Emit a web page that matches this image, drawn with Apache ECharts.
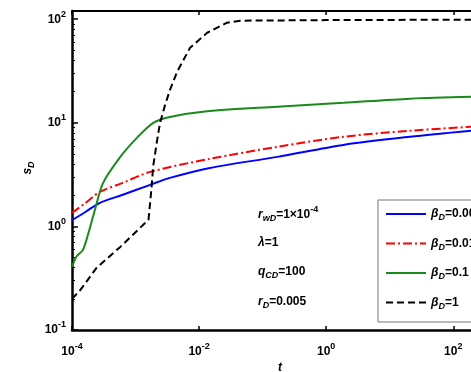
<!DOCTYPE html>
<html>
<head>
<meta charset="utf-8">
<script src="https://cdn.jsdelivr.net/npm/echarts@6/dist/echarts.min.js"></script>
<style>
  html, body { margin: 0; padding: 0; background: #fff; }
  #main { width: 471px; height: 372px; }
</style>
</head>
<body>
<div id="main"></div>
<script>
// values (t, s_D)
var tBlue = [1e-4, 1.6e-4, 2.75e-4, 6e-4, 1.7e-3, 3.47e-3, 0.0148, 0.17, 1.86, 20.9, 190]
var sBlue = [1.15, 1.37, 1.69, 2.0, 2.52, 2.94, 3.67, 4.69, 6.12, 7.33, 8.38]

var tRed = [1e-4, 1.6e-4, 2.75e-4, 6e-4, 1.7e-3, 0.0148, 0.17, 1.86, 20.9, 190]
var sRed = [1.35, 1.67, 2.15, 2.6, 3.36, 4.49, 5.86, 7.33, 8.38, 9.15]

var tGreen = [1e-4, 1.2e-4, 1.48e-4, 1.78e-4, 2.29e-4, 3.09e-4, 5.75e-4, 1.05e-3, 1.9e-3, 3.47e-3, 0.0115, 0.17, 1.86, 20.9, 190]
var sGreen = [0.41, 0.52, 0.59, 0.83, 1.44, 2.63, 4.69, 7.16, 10.0, 11.4, 12.8, 14.3, 15.6, 17.1, 17.8]

var tBlack = [1e-4, 1.35e-4, 2.45e-4, 5.75e-4, 1.6e-3, 1.69e-3, 1.8e-3, 1.89e-3, 2.19e-3, 2.43e-3, 2.92e-3, 3.49e-3, 4.51e-3, 7.21e-3, 0.0134, 0.0276, 0.0443, 1, 190]
var sBlack = [0.2, 0.243, 0.40, 0.634, 1.16, 1.2, 2.5, 3.76, 6.86, 10, 14.9, 20.9, 31.1, 53, 74, 92.5, 96.8, 98, 99]

var seriesNames = ['0.001', '0.01', '0.1', '1']
var xTicks = [1e-4, 1e-2, 1, 100]
var yTicks = [0.1, 1, 10, 100]
var yMinorTicks = [0.2, 0.3, 0.4, 0.5, 0.6, 0.7, 0.8, 0.9, 2, 3, 4, 5, 6, 7, 8, 9, 20, 30, 40, 50, 60, 70, 80, 90]

var FONT = 'Liberation Sans, Arial, sans-serif'

function zip (xs, ys) {
  return xs.map(function (x, i) { return [x, ys[i]] })
}

var powRich = {
  b: { fontFamily: FONT, fontSize: 12, fontWeight: 'bold', color: '#000' },
  e: { fontFamily: FONT, fontSize: 9, fontWeight: 'bold', color: '#000', padding: [0, 0, 10, 0] }
}
function powLabel (v) {
  return '{b|10}{e|' + Math.round(Math.log10(v)) + '}'
}

var textRich = {
  n: { fontFamily: FONT, fontSize: 12, fontWeight: 'bold', color: '#000' },
  i: { fontFamily: FONT, fontSize: 12, fontWeight: 'bold', fontStyle: 'italic', color: '#000' },
  sub: { fontFamily: FONT, fontSize: 9, fontWeight: 'bold', fontStyle: 'italic', color: '#000', padding: [8, 0, 0, 0] },
  sup: { fontFamily: FONT, fontSize: 9, fontWeight: 'bold', color: '#000', padding: [0, 0, 10, 0] }
}

var chart = echarts.init(document.getElementById('main'), null, { renderer: 'canvas' })

var option = {
  animation: false,
  backgroundColor: '#fff',
  grid: { left: 72, right: 0, top: 11, bottom: 42, containLabel: false },
  legend: {
    orient: 'vertical',
    left: 378,
    top: 200,
    itemWidth: 40,
    itemHeight: 12,
    itemGap: 15,
    padding: [8, 40, 11, 7],
    borderColor: '#777',
    borderWidth: 1,
    backgroundColor: '#fff',
    itemStyle: { color: 'rgba(0,0,0,0)', borderColor: 'rgba(0,0,0,0)', borderWidth: 0 },
    data: seriesNames,
    formatter: function (name) {
      return '{i|β}{sub|D}{n|=' + name + '}'
    },
    textStyle: { rich: textRich }
  },
  xAxis: [{
    type: 'log',
    position: 'bottom',
    min: 1e-4,
    max: 190,
    axisLine: { lineStyle: { color: '#000', width: 2.5 } },
    axisTick: { inside: true, length: 4, customValues: xTicks, lineStyle: { color: '#000', width: 1.5 } },
    axisLabel: { customValues: xTicks, margin: 12, formatter: powLabel, rich: powRich },
    splitLine: { show: false },
    minorTick: { show: false }
  }, {
    type: 'log',
    position: 'top',
    min: 1e-4,
    max: 190,
    axisLine: { lineStyle: { color: '#000', width: 2 } },
    axisTick: { inside: true, length: 4, customValues: xTicks, lineStyle: { color: '#000', width: 1.5 } },
    axisLabel: { show: false },
    splitLine: { show: false }
  }],
  yAxis: [{
    type: 'log',
    position: 'left',
    min: 0.1,
    max: 120,
    axisLine: { lineStyle: { color: '#000', width: 2.5 } },
    axisTick: { inside: true, length: 6, customValues: yTicks, lineStyle: { color: '#000', width: 1.5 } },
    axisLabel: { customValues: yTicks, margin: 6, formatter: powLabel, rich: powRich },
    splitLine: { show: false }
  }, {
    type: 'log',
    position: 'left',
    min: 0.1,
    max: 120,
    axisLine: { show: false },
    axisTick: { inside: true, length: 3, customValues: yMinorTicks, lineStyle: { color: '#000', width: 1 } },
    axisLabel: { show: false },
    splitLine: { show: false }
  }],
  series: [{
    name: seriesNames[0],
    type: 'line',
    symbol: 'none',
    smooth: 0.3,
    data: zip(tBlue, sBlue),
    lineStyle: { color: '#0000ff', width: 2 },
    itemStyle: { color: '#0000ff' }
  }, {
    name: seriesNames[1],
    type: 'line',
    symbol: 'none',
    smooth: 0.3,
    data: zip(tRed, sRed),
    lineStyle: { color: '#ff0000', width: 2, type: [9, 3, 2, 3] },
    itemStyle: { color: '#ff0000' }
  }, {
    name: seriesNames[2],
    type: 'line',
    symbol: 'none',
    smooth: 0.3,
    data: zip(tGreen, sGreen),
    lineStyle: { color: '#1a8a1a', width: 2 },
    itemStyle: { color: '#1a8a1a' }
  }, {
    name: seriesNames[3],
    type: 'line',
    symbol: 'none',
    data: zip(tBlack, sBlack),
    lineStyle: { color: '#000', width: 2, type: [7, 4] },
    itemStyle: { color: '#000' }
  }],
  graphic: [
    { type: 'text', x: 28, y: 168, rotation: Math.PI / 2,
      style: { text: '{i|s}{sub|D}', rich: textRich, align: 'center', verticalAlign: 'middle' } },
    { type: 'text', x: 280, y: 368,
      style: { text: '{i|t}', rich: textRich, align: 'center', verticalAlign: 'middle' } },
    { type: 'text', x: 258, y: 215,
      style: { text: '{i|r}{sub|wD}{n|=1×10}{sup|-4}', rich: textRich, verticalAlign: 'middle' } },
    { type: 'text', x: 258, y: 243,
      style: { text: '{i|λ}{n|=1}', rich: textRich, verticalAlign: 'middle' } },
    { type: 'text', x: 258, y: 272,
      style: { text: '{i|q}{sub|CD}{n|=100}', rich: textRich, verticalAlign: 'middle' } },
    { type: 'text', x: 258, y: 302,
      style: { text: '{i|r}{sub|D}{n|=0.005}', rich: textRich, verticalAlign: 'middle' } }
  ]
}

chart.setOption(option)
</script>
</body>
</html>
